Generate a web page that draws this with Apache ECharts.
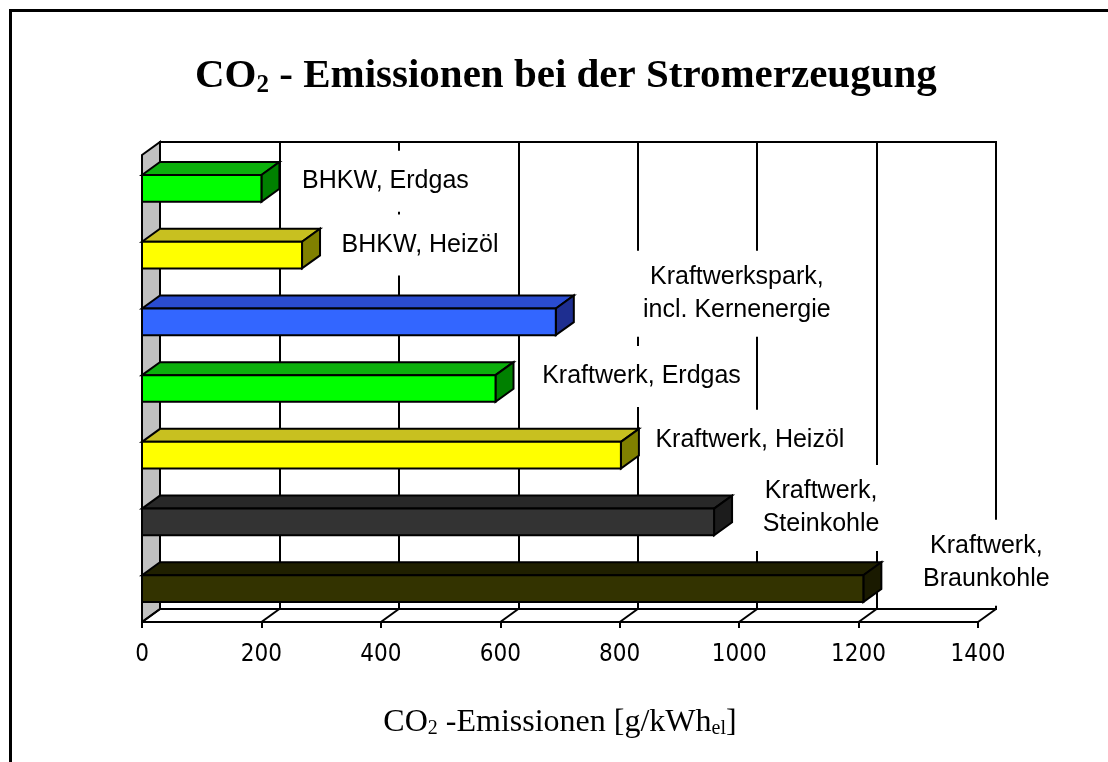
<!DOCTYPE html>
<html>
<head>
<meta charset="utf-8">
<script src="https://cdn.jsdelivr.net/npm/echarts@6/dist/echarts.min.js"></script>
<style>html,body{margin:0;padding:0;background:#fff}#c{width:1108px;height:762px}</style>
</head>
<body>
<div id="c"></div>
<script>
// ---- data ----
const categories = ['BHKW, Erdgas', 'BHKW, Heizöl', 'Kraftwerkspark, incl. Kernenergie', 'Kraftwerk, Erdgas', 'Kraftwerk, Heizöl', 'Kraftwerk, Steinkohle', 'Kraftwerk, Braunkohle'];
const labelLines = ['BHKW, Erdgas', 'BHKW, Heizöl', 'Kraftwerkspark,\nincl. Kernenergie', 'Kraftwerk, Erdgas', 'Kraftwerk, Heizöl', 'Kraftwerk,\nSteinkohle', 'Kraftwerk,\nBraunkohle'];
const values = [200, 268, 693, 592, 802, 958, 1208];
const tickValues = [0, 200, 400, 600, 800, 1000, 1200, 1400];

// ---- layout / style ----
const DX = 18, DY = 13;
const palette = [
  { front: '#00ff00', top: '#0cb00c', side: '#008000' },
  { front: '#ffff00', top: '#c8c020', side: '#808000' },
  { front: '#3366ff', top: '#2a4cd0', side: '#1e2e90' },
  { front: '#00ff00', top: '#0cb00c', side: '#008000' },
  { front: '#ffff00', top: '#c8c020', side: '#808000' },
  { front: '#333333', top: '#282828', side: '#1c1c1c' },
  { front: '#333300', top: '#202000', side: '#1a1a00' }
];
const labelOffsets = [[106, -7], [100, -10], [163, -28], [128, -12], [111, -15], [89, -14], [105, -26]];
const serif = '"Liberation Serif", "Times New Roman", serif';
const sans = '"Liberation Sans", Arial, sans-serif';

const chart = echarts.init(document.getElementById('c'), null, { renderer: 'canvas' });

function renderBar(params, api) {
  const i = params.dataIndex;
  const v = api.value(0), c = api.value(1);
  const p0 = api.coord([0, c]), p1 = api.coord([v, c]);
  const band = api.size([0, 1])[1];
  const h = band * 0.40;
  const x0 = p0[0], x1 = p1[0], yt = p0[1] - h / 2, yb = p0[1] + h / 2;
  const col = palette[i];
  const ln = { stroke: '#000', lineWidth: 2, lineJoin: 'miter' };
  const off = labelOffsets[i];
  const twoLines = labelLines[i].indexOf('\n') >= 0;
  return {
    type: 'group',
    children: [
      { type: 'polygon', shape: { points: [[x0, yt], [x0 + DX, yt - DY], [x1 + DX, yt - DY], [x1, yt]] }, style: Object.assign({ fill: col.top }, ln) },
      { type: 'polygon', shape: { points: [[x1, yt], [x1 + DX, yt - DY], [x1 + DX, yb - DY], [x1, yb]] }, style: Object.assign({ fill: col.side }, ln) },
      { type: 'rect', shape: { x: x0, y: yt, width: x1 - x0, height: h }, style: Object.assign({ fill: col.front }, ln) },
      {
        type: 'text', x: x1 + DX + off[0], y: p0[1] + off[1], z2: 20,
        style: { text: labelLines[i], fill: '#000', font: '25px ' + sans, align: 'center', verticalAlign: 'middle', lineHeight: 33, backgroundColor: '#fff', padding: twoLines ? [10, 12] : [14, 12] }
      }
    ]
  };
}

function renderFrame(params, api) {
  const cs = params.coordSys;
  const p = api.coord([api.value(0), 0]);
  const yB = cs.y + cs.height;
  const children = [
    { type: 'line', shape: { x1: p[0], y1: yB, x2: p[0] + DX, y2: yB - DY }, style: { stroke: '#000', lineWidth: 2 } }
  ];
  if (params.dataIndex === 0) {
    children.unshift({
      type: 'polygon',
      shape: { points: [[cs.x, cs.y], [cs.x + DX, cs.y - DY], [cs.x + DX, yB - DY], [cs.x, yB]] },
      style: { fill: '#c0c0c0', stroke: '#000', lineWidth: 2 }
    });
  }
  return { type: 'group', children };
}

const option = {
  animation: false,
  backgroundColor: '#fff',
  title: {
    text: '{a|CO}{b|2}{a| - Emissionen bei der Stromerzeugung}',
    left: 190, top: 50,
    textStyle: {
      rich: {
        a: { fontFamily: serif, fontWeight: 'bold', fontSize: 41, color: '#000' },
        b: { fontFamily: serif, fontWeight: 'bold', fontSize: 25, color: '#000', verticalAlign: 'bottom', padding: [18, 0, 0, 0] }
      }
    }
  },
  graphic: [{ type: 'rect', shape: { x: 10.5, y: 10.5, width: 1300, height: 900 }, style: { fill: 'none', stroke: '#000', lineWidth: 3 }, z: 100 }],
  grid: [
    { left: 142, top: 155, width: 836, height: 467, show: false },
    { left: 160, top: 142, width: 836, height: 467, show: true, borderColor: '#000', borderWidth: 2, backgroundColor: '#fff', z: 0 }
  ],
  xAxis: [
    {
      type: 'value', gridIndex: 0, min: 0, max: 1400, interval: 200,
      axisLine: { show: true, lineStyle: { color: '#000', width: 2 } },
      axisTick: { show: true, length: 6, lineStyle: { color: '#000', width: 2 } },
      splitLine: { show: false },
      axisLabel: { margin: 21, color: '#000', fontFamily: '"DejaVu Sans Condensed", ' + sans, fontSize: 24, formatter: v => String(v) },
      name: '{a|CO}{b|2}{a| -Emissionen [g/kWh}{b|el}{a|]}',
      nameLocation: 'middle', nameGap: 85,
      nameTextStyle: {
        rich: {
          a: { fontFamily: serif, fontSize: 32, color: '#000' },
          b: { fontFamily: serif, fontSize: 20, color: '#000', verticalAlign: 'bottom', padding: [12, 0, 0, 0] }
        }
      }
    },
    {
      type: 'value', gridIndex: 1, min: 0, max: 1400, interval: 200,
      axisLine: { show: false }, axisTick: { show: false }, axisLabel: { show: false },
      splitLine: { show: true, lineStyle: { color: '#000', width: 2 } }
    }
  ],
  yAxis: [
    { type: 'category', gridIndex: 0, data: categories, inverse: true, show: false },
    { type: 'category', gridIndex: 1, data: categories, inverse: true, show: false }
  ],
  series: [
    {
      type: 'custom', name: 'frame', xAxisIndex: 0, yAxisIndex: 0, z: 2,
      renderItem: renderFrame,
      encode: { x: 0, y: 1 },
      data: tickValues.map(t => [t, 0])
    },
    {
      type: 'custom', name: 'CO2', xAxisIndex: 0, yAxisIndex: 0, z: 3,
      renderItem: renderBar,
      encode: { x: 0, y: 1 },
      data: values.map((v, i) => [v, i])
    }
  ]
};
chart.setOption(option);
</script>
</body>
</html>
